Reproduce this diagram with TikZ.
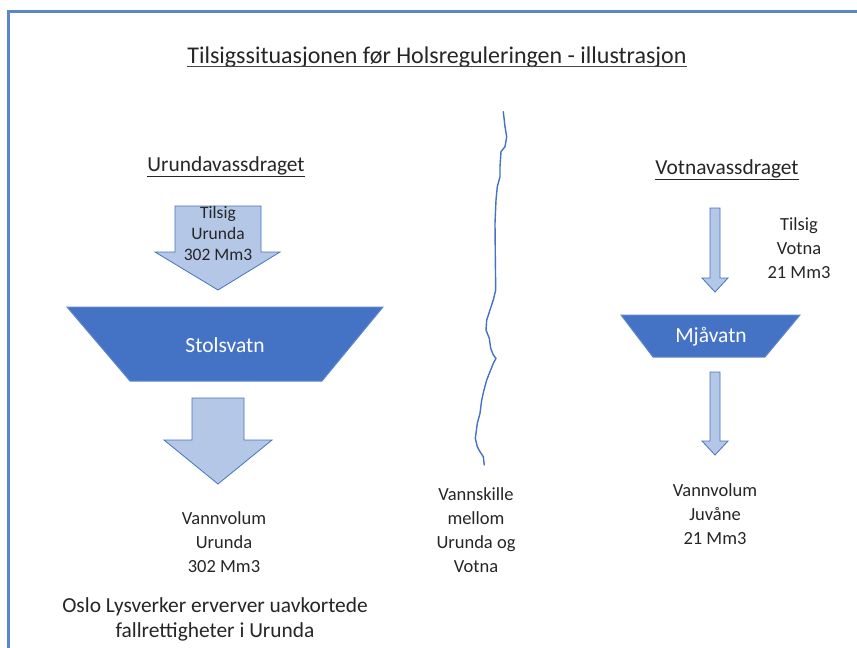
\documentclass[tikz,border=0pt]{standalone}
\usepackage{fontspec}
\setmainfont{Carlito}
\definecolor{accent}{HTML}{4472C4}
\definecolor{lightfill}{HTML}{B4C7E7}
\definecolor{frameblue}{HTML}{5B87C9}
\definecolor{txt}{HTML}{262626}
\begin{document}
\begin{tikzpicture}[x=1pt,y=-1pt,
  lbl/.style={text=txt,align=center,inner sep=0pt,font=\fontsize{18.5}{24}\selectfont},
  biglbl/.style={text=txt,align=center,inner sep=0pt,font=\fontsize{21.4}{25}\selectfont},
  smalllbl/.style={text=txt,align=center,inner sep=0pt,font=\fontsize{17.5}{21}\selectfont},
  lakelbl/.style={text=white,align=center,inner sep=0pt,font=\fontsize{21.5}{25}\selectfont},
  blockarrow/.style={fill=lightfill,draw=accent,line width=0.8pt,line join=miter},
  lake/.style={fill=accent,draw=accent!85!white,line width=1pt},
  divide/.style={draw=accent,line width=1.4pt,line join=round,line cap=round},
  uline/.style={draw=txt!85!white,line width=1.6pt}]
\useasboundingbox (0,0) rectangle (857,648);
\fill[white] (0,0) rectangle (857,648);
% frame
\draw[frameblue,line width=3pt] (8,648) -- (8,11) -- (857,11);
% title
\node[text=txt,inner sep=0pt,anchor=base,font=\fontsize{24}{28}\selectfont] (title) at (437,63) {Tilsigssituasjonen før Holsreguleringen - illustrasjon};
\draw[uline] ([yshift=-3.5pt]title.base west) -- ([yshift=-3.5pt]title.base east);
\node[biglbl] (urh) at (226,167) {\underline{Urundavassdraget}};
\node[biglbl] (voh) at (727,170) {\underline{Votnavassdraget}};
% Urunda inflow arrow
\draw[blockarrow] (175,206) -- (261,206) -- (261,252) -- (280,252) -- (218,290) -- (155,252) -- (175,252) -- cycle;
\node[smalllbl] (tu) at (218,233) {Tilsig\\Urunda\\302 Mm3};
% Stolsvatn
\draw[lake] (67,307) -- (383,307) -- (322,381) -- (130,381) -- cycle;
\node[lakelbl] (stol) at (225,345) {Stolsvatn};
% outflow arrow
\draw[blockarrow] (192,398) -- (244,398) -- (244,440) -- (272,440) -- (218,484) -- (164,440) -- (192,440) -- cycle;
\node[lbl] (vu) at (224,542) {Vannvolum\\Urunda\\302 Mm3};
\node[biglbl] (oslo) at (215,619) {Oslo Lysverker erverver uavkortede\\fallrettigheter i Urunda};
% water divide
\draw[divide] (503.3,111.7) -- (505,126.7) -- (506.7,136.7) -- (505,146.7) -- (501,151.7) -- (500,166.7) -- (500,176.7) -- (497.3,186.7) -- (496,200) -- (495,223.3) -- (495.3,256.7) -- (495.7,290) -- (493.3,300) -- (490,310) -- (486.7,320) -- (486,330) -- (489.3,338.3) -- (490.7,348.3) -- (493.3,355) -- (496,358.3) -- (493.3,363.3) -- (490,371.7) -- (486.7,380) -- (484,390) -- (481.7,400) -- (480,413.3) -- (477.3,423.3) -- (476,433.3) -- (475.3,438.3) -- (477.3,446.7) -- (480,451.7) -- (483.3,456.7) -- (484.3,465);
\node[lbl] (vs) at (476,530) {Vannskille\\mellom\\Urunda og\\Votna};
% Votna inflow arrow
\draw[blockarrow] (710,208) -- (720,208) -- (720,278) -- (728,278) -- (715,292) -- (702,278) -- (710,278) -- cycle;
\node[lbl] (tv) at (799,248) {Tilsig\\Votna\\21 Mm3};
% Mjaavatn
\draw[lake] (621,315) -- (800,315) -- (765,357) -- (653,357) -- cycle;
\node[lakelbl] (mja) at (711,337) {Mjåvatn};
% Votna outflow arrow
\draw[blockarrow] (710,372) -- (720,372) -- (720,441) -- (728,441) -- (715,455) -- (702,441) -- (710,441) -- cycle;
\node[lbl] (vj) at (715,514) {Vannvolum\\Juvåne\\21 Mm3};
\end{tikzpicture}
\end{document}
